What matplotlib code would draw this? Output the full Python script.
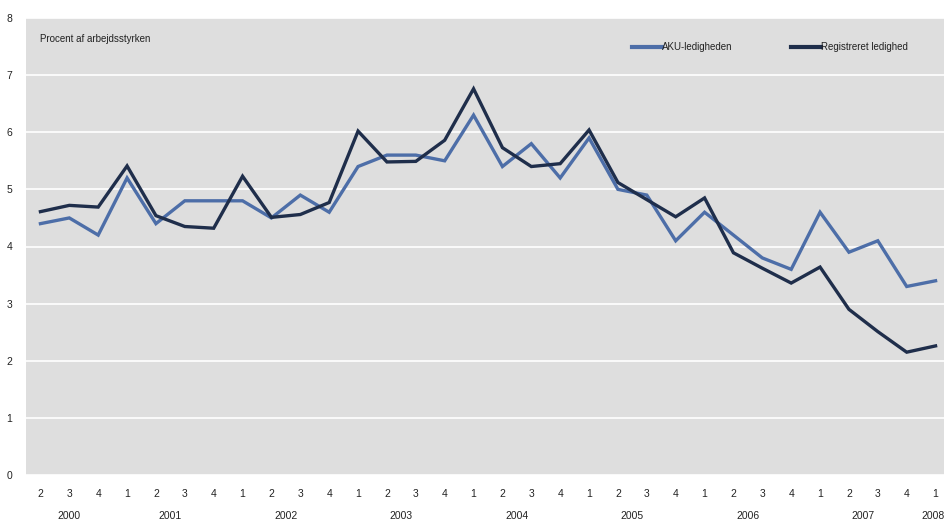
import numpy as np
import matplotlib
matplotlib.use("Agg")
import matplotlib.pyplot as plt
import matplotlib.transforms as mtransforms

# quarters from 2000 Q2 to 2008 Q1
quarters = [2, 3, 4] + [1, 2, 3, 4] * 7 + [1]
years = ["2000", "2001", "2002", "2003", "2004", "2005", "2006", "2007", "2008"]

aku = [4.4, 4.5, 4.2, 5.2, 4.4, 4.8, 4.8, 4.8, 4.5, 4.9, 4.6,
       5.4, 5.6, 5.6, 5.5, 6.3, 5.4, 5.8, 5.2, 5.9, 5.0, 4.9,
       4.1, 4.6, 4.2, 3.8, 3.6, 4.6, 3.9, 4.1, 3.3, 3.4]
registreret = [4.61, 4.72, 4.69, 5.41, 4.54, 4.35, 4.32, 5.23, 4.51, 4.56, 4.77,
               6.02, 5.48, 5.49, 5.86, 6.76, 5.73, 5.40, 5.45, 6.04, 5.12, 4.82,
               4.52, 4.85, 3.89, 3.62, 3.36, 3.64, 2.90, 2.51, 2.15, 2.26]

blue = "#4d6ea8"
navy = "#1f2e4b"
txt = "#222222"
plt.rcParams["font.family"] = ["Liberation Sans", "DejaVu Sans"]

x = np.arange(len(quarters))

fig = plt.figure(figsize=(9.45, 5.2), dpi=100)
ax = fig.add_axes([26 / 945, 45 / 520, 924 / 945, 457 / 520])
ax.set_facecolor("#dedede")

ax.plot(x, aku, color=blue, lw=2.4, label="AKU-ledigheden", solid_joinstyle="miter")
ax.plot(x, registreret, color=navy, lw=2.4, label="Registreret ledighed", solid_joinstyle="miter")

ax.set_xlim(-0.5, len(quarters) - 0.5)
ax.set_ylim(0, 8)
ax.set_yticks(range(9))
ax.grid(axis="y", color="white", lw=1.2)
ax.set_axisbelow(True)
for s in ax.spines.values():
    s.set_visible(False)

ax.set_xticks(x)
ax.set_xticklabels([str(q) for q in quarters])
ax.tick_params(axis="both", length=0, labelsize=7.5, colors=txt)
ax.tick_params(axis="x", pad=10)
ax.tick_params(axis="y", pad=10)

# year labels centred under their quarters
trans = mtransforms.blended_transform_factory(ax.transData, ax.transAxes)
year_of = []
y0 = 2000
for q in quarters:
    if q == 1 and year_of:
        y0 += 1
    year_of.append(y0)
year_of = np.array(year_of)
for yr in years:
    xs = x[year_of == int(yr)]
    if yr == years[-1]:
        # last year sits at the right edge; keep it inside the figure
        ax.text(xs.mean() + 0.3, -0.09, yr, transform=trans, ha="right", va="center",
                fontsize=7.5, color=txt, clip_on=False)
    else:
        ax.text(xs.mean(), -0.09, yr, transform=trans, ha="center", va="center",
                fontsize=7.5, color=txt, clip_on=False)

ax.text(0, 0.955, "Procent af arbejdsstyrken", transform=trans, fontsize=7,
        color=txt, va="center", ha="left")

leg = ax.legend(loc="upper left", bbox_to_anchor=(0.6465, 0.966), ncol=2, frameon=False,
                fontsize=7, handlelength=3.1, handletextpad=0.0, columnspacing=6.0,
                labelcolor=txt)
for line in leg.get_lines():
    line.set_linewidth(3)

fig.savefig("out.png", dpi=100)
